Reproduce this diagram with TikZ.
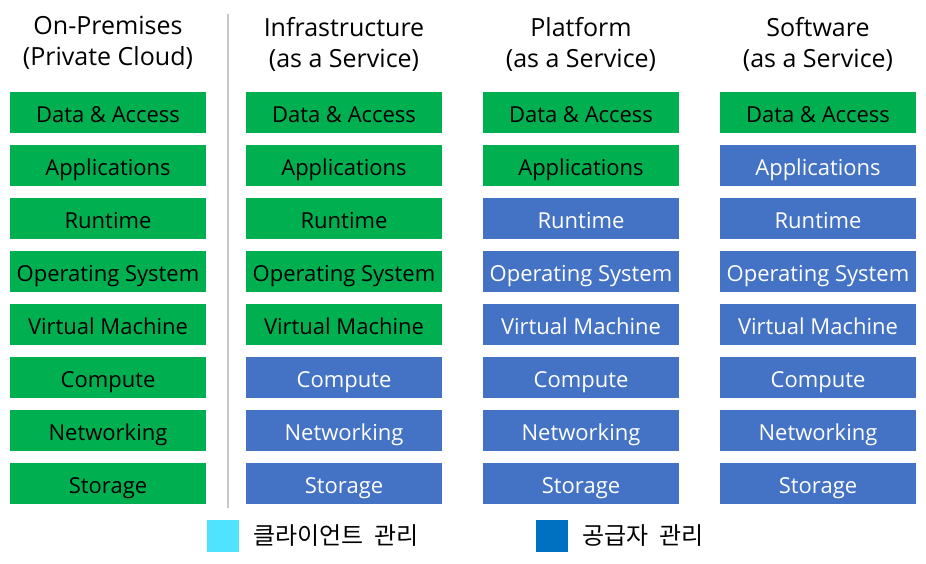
\documentclass[tikz,border=0pt]{standalone}
\usepackage{fontspec}
\setmainfont{Open Sans}
\newfontfamily\kor{Noto Sans CJK KR}
\definecolor{mgreen}{HTML}{00B050}
\definecolor{mblue}{HTML}{4472C4}
\definecolor{lcyan}{HTML}{4FE3FF}
\definecolor{lblue}{HTML}{0070C0}
\begin{document}
\begin{tikzpicture}[x=1pt,y=-1pt,font=\fontsize{22}{31}\selectfont,
    layer/.style={minimum width=196pt,minimum height=41pt,inner sep=0pt,text height=20pt,text depth=0pt},
    mine/.style={layer,fill=mgreen,text=black},
    theirs/.style={layer,fill=mblue,text=white},
    head/.style={align=center,inner sep=0pt,font=\fontsize{25}{31.5}\selectfont},
    key/.style={minimum size=32pt,inner sep=0pt}]
    \useasboundingbox (0,0) rectangle (926,564);
    % column headers
    \node[head] (h1) at (108,43) {On-Premises\\(Private Cloud)};
    \node[head] (h2) at (344,44.5) {Infrastructure\\(as a Service)};
    \node[head] (h3) at (581,44.5) {Platform\\(as a Service)};
    \node[head] (h4) at (818,44.5) {Software\\(as a Service)};
    \draw[black!22,line width=2.5pt] (228,14)--(228,508);
    % stacks: \g = number of layers kept by the client
    \foreach \c/\xc/\g in {1/108/8,2/344/5,3/581/2,4/818/1}{
        \foreach \t [count=\r] in {Data \& Access,Applications,Runtime,Operating System,Virtual Machine,Compute,Networking,Storage}{
            \pgfmathsetmacro{\yc}{113+52.93*(\r-1)}
            \ifnum\r>\g
                \node[theirs] (c\c r\r) at (\xc,\yc) {\t};
            \else
                \node[mine] (c\c r\r) at (\xc,\yc) {\t};
            \fi
        }
    }
    % legend
    \node[key,fill=lcyan] (k1) at (223,536) {};
    \node[anchor=west,inner sep=0pt,font=\kor\fontsize{24}{28}\selectfont] (t1) at (253,536) {클라이언트 \ 관리};
    \node[key,fill=lblue] (k2) at (551.5,536) {};
    \node[anchor=west,inner sep=0pt,font=\kor\fontsize{24}{28}\selectfont] (t2) at (582,536) {공급자 \ 관리};
\end{tikzpicture}
\end{document}
